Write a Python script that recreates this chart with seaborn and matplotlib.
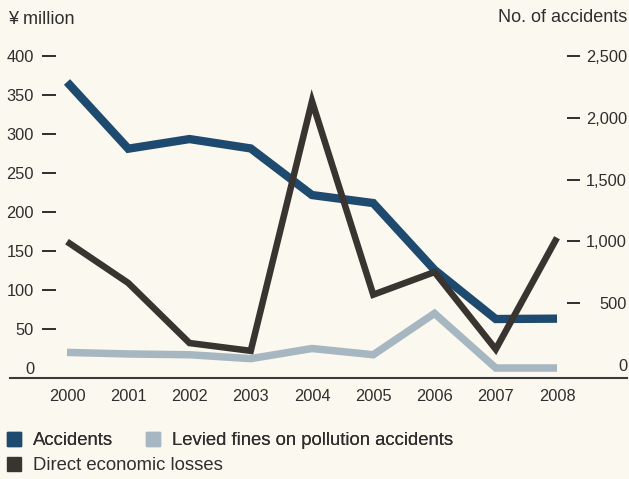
import matplotlib
matplotlib.use("Agg")
import matplotlib.pyplot as plt
from matplotlib.patches import Patch
import seaborn as sns
import pandas as pd

# --- data -------------------------------------------------------------
years = [2000, 2001, 2002, 2003, 2004, 2005, 2006, 2007, 2008]
accidents = [2290, 1750, 1828, 1752, 1375, 1310, 770, 372, 375]      # number of accidents
economic_losses = [162, 109, 32, 22, 342, 94, 123, 24, 167]          # ¥ million
levied_fines = [20, 18, 17, 12, 25, 17, 70, 0, 0]                    # ¥ million

left_ticks = [50, 100, 150, 200, 250, 300, 350, 400]
right_ticks = [500, 1000, 1500, 2000, 2500]

series_names = ["Accidents", "Levied fines on pollution accidents", "Direct economic losses"]

# --- style ------------------------------------------------------------
BLUE = "#1d4a6e"
DARK = "#3a3430"
LIGHT = "#a7b7c2"
TEXT = "#2e2e2e"
BG = "#fbf9ef"

sns.set_theme(style="white")
plt.rcParams["font.family"] = ["Liberation Sans", "DejaVu Sans"]
plt.rcParams["text.color"] = TEXT

W, H = 629, 479
fig = plt.figure(figsize=(W / 100, H / 100), dpi=100, facecolor=BG)

# plot area: x 10..627 px, y 40..378 px (from top)
ax = fig.add_axes([10 / W, (H - 378) / H, 617 / W, (378 - 40) / H])
ax2 = ax.twinx()

df = pd.DataFrame({"year": years, "accidents": accidents,
                   "losses": economic_losses, "fines": levied_fines})

line_kw = dict(solid_joinstyle="miter", solid_capstyle="butt")
sns.lineplot(data=df, x="year", y="accidents", ax=ax2, color=BLUE, lw=6.0, **line_kw)
sns.lineplot(data=df, x="year", y="fines", ax=ax, color=LIGHT, lw=5.4, **line_kw)
sns.lineplot(data=df, x="year", y="losses", ax=ax, color=DARK, lw=4.7, **line_kw)

# money lines drawn above the accident line
ax.set_zorder(ax2.get_zorder() + 1)
ax.patch.set_visible(False)
ax2.patch.set_visible(False)

# --- scales -----------------------------------------------------------
px_per_year = 61.25
ax.set_xlim(2000 - 57 / px_per_year, 2008 + 70 / px_per_year)
ax.set_ylim(-(378 - 368) / 0.78, (368 - 40) / 0.78)
ax2.set_ylim(-(378 - 365) / 0.1236, (365 - 40) / 0.1236)

ax.set_xlabel("")
ax.set_ylabel("")
ax2.set_ylabel("")

# --- spines -----------------------------------------------------------
for s in ["top", "right", "left"]:
    ax.spines[s].set_visible(False)
ax.spines["bottom"].set_color("#3a3a3a")
ax.spines["bottom"].set_linewidth(1.5)
ax.spines["left"].set_position(("axes", 46 / 617))

for s in ["top", "bottom", "left", "right"]:
    ax2.spines[s].set_visible(False)
ax2.spines["right"].set_position(("axes", 557 / 617))

# --- ticks ------------------------------------------------------------
TICK_FS = 11.8
ax.set_xticks(years, labels=[str(y) for y in years])
ax.tick_params(axis="x", length=0, pad=8, labelsize=TICK_FS, labelcolor=TEXT)

ax.set_yticks(left_ticks, labels=[str(v) for v in left_ticks])
ax.set_yticks([0], labels=["0"], minor=True)
ax.tick_params(axis="y", which="major", direction="out", length=10, width=1.4,
               color=TEXT, pad=5.8, labelsize=TICK_FS, labelcolor=TEXT, left=True)
ax.tick_params(axis="y", which="minor", length=0, pad=15.8,
               labelsize=TICK_FS, labelcolor=TEXT, left=True)

ax2.set_yticks(right_ticks, labels=[f"{v:,}" for v in right_ticks])
ax2.set_yticks([0], labels=["0"], minor=True)
ax2.tick_params(axis="y", which="major", direction="out", length=9.4, width=1.4,
                color=TEXT, pad=33.8, labelsize=TICK_FS, labelcolor=TEXT, right=True)
ax2.tick_params(axis="y", which="minor", length=0, pad=43.2,
                labelsize=TICK_FS, labelcolor=TEXT, right=True)
for lab in ax2.get_yticklabels(which="both"):
    lab.set_horizontalalignment("right")

# --- axis titles ------------------------------------------------------
fig.text(8 / W, 1 - 20 / H, "¥ million", ha="left", va="center", fontsize=13, color=TEXT)
fig.text(627 / W, 1 - 18 / H, "No. of accidents", ha="right", va="center",
         fontsize=13, color=TEXT)

# --- legend -----------------------------------------------------------
LEG_FS = 13.3
leg_kw = dict(frameon=False, fontsize=LEG_FS, handlelength=0.76, handleheight=0.76,
              handletextpad=0.65, columnspacing=1.8, borderpad=0, borderaxespad=0,
              loc="center left", labelcolor=TEXT)
leg1 = fig.legend(handles=[Patch(color=BLUE), Patch(color=LIGHT)],
                  labels=series_names[:2], ncol=2,
                  bbox_to_anchor=(7 / W, 1 - 440.5 / H), **leg_kw)
fig.add_artist(leg1)
fig.legend(handles=[Patch(color=DARK)], labels=series_names[2:], ncol=1,
           bbox_to_anchor=(7 / W, 1 - 465.5 / H), **leg_kw)

fig.savefig("out.png", dpi=100, facecolor=BG)
